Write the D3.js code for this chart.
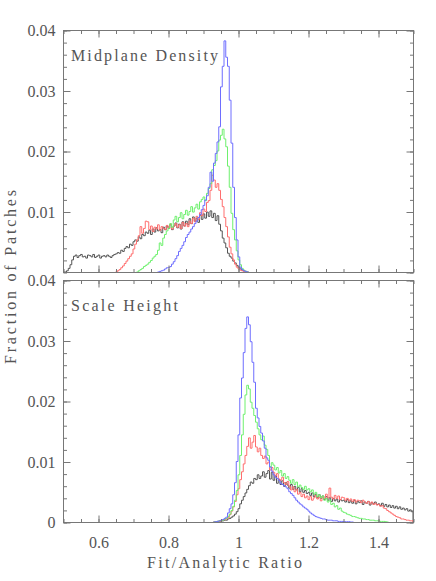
<!DOCTYPE html>
<html>
<head>
<meta charset="utf-8">
<script src="https://cdn.jsdelivr.net/npm/d3@7"></script>
<style>
    html, body { margin: 0; padding: 0; background: #fff; }
    #chart text { font-family: "Liberation Serif", "DejaVu Serif", serif; fill: #555; }
</style>
</head>
<body>
<div id="chart"></div>
<script>
// Histogram data, bin width 0.005, values in units of 1e-3 (fraction of patches)
const binWidth = 0.005;

// Midplane density panel
const mdBlackStart = 0.50;
const mdBlack = [
    0, 0, 0.2, 0.6, 1.2, 2.0, 2.6,
    2.8, 2.4, 2.7, 2.9, 2.5, 2.6, 2.3, 2.8, 2.7, 2.5, 2.9, 2.4, 2.6, 2.8, 2.3, 2.6, 2.7, 2.5, 2.8, 2.6, 2.4, 2.7, 2.9,
    3.0, 3.2, 3.1, 3.6, 3.4, 3.9, 4.2, 4.0, 4.6, 4.4, 5.0, 5.3, 5.1, 5.8, 5.5, 6.2, 6.0, 6.6,
    6.4, 6.9, 6.2, 7.1, 6.6, 7.3, 6.8, 7.0, 6.5, 7.4, 7.0, 7.6,
    7.2, 7.8, 7.0, 7.6, 8.1, 7.3, 7.9, 7.1, 8.3, 7.6, 8.4, 7.8, 8.8, 8.0, 9.1, 8.4, 8.9, 8.2, 9.4, 8.7,
    9.6, 8.9, 9.9, 9.2, 10.1, 9.0, 9.7, 8.5, 9.3, 7.9,
    6.8, 5.6, 4.8, 4.0, 3.1, 2.6, 2.3, 1.8, 1.5, 1.1, 0.8, 0.5, 0.3, 0.2, 0.1, 0
];
const mdRedStart = 0.65;
const mdRed = [
    0, 0.2, 0.4, 0.7, 1.0, 1.4, 1.8, 2.2, 2.6, 3.0, 3.8, 4.6, 5.3, 6.0, 7.5, 6.4, 7.2, 8.4,
    8.3, 7.0, 7.6, 6.7, 7.4, 7.1, 7.8, 6.9, 7.5, 7.2, 7.0, 7.7,
    7.3, 7.9, 7.1, 7.6, 8.0, 7.4, 7.8, 7.2, 8.2, 7.6, 8.0, 7.5, 8.4, 8.0, 8.9, 8.3, 9.2, 8.7, 9.8, 9.3,
    10.4, 10.0, 11.5, 11.8, 13.5, 16.0, 15.2, 14.0, 14.6, 13.5,
    12.0, 10.8, 9.0, 7.5, 5.8, 4.1, 3.0, 2.0, 1.3, 0.8, 0.5, 0.3, 0.2, 0.1, 0.05, 0
];
const mdGreenStart = 0.71;
const mdGreen = [
    0, 0.2, 0.4, 0.6, 0.9, 1.1, 1.3, 1.6, 1.9, 2.3, 2.6, 2.9, 3.6, 4.8, 4.4, 5.6, 6.2, 6.8,
    7.2, 8.0, 7.4, 8.6, 9.2, 8.3, 9.0, 9.8, 8.8, 9.5, 10.2, 9.4, 10.0, 10.8, 9.9, 10.6, 11.2, 10.4, 11.6, 12.0,
    12.4, 11.8, 13.0, 13.8, 14.6, 16.9, 17.6, 18.4, 20.0, 21.8,
    22.6, 23.6, 22.0, 20.7, 17.5, 14.0, 9.7, 7.0, 5.3, 3.5, 2.0, 1.2, 0.6, 0.3, 0.1, 0
];
const mdBlueStart = 0.77;
const mdBlue = [
    0, 0.1, 0.2, 0.3, 0.5, 0.7,
    0.7, 0.9, 1.3, 1.7, 2.2, 2.7, 3.4, 3.9, 4.4, 5.0, 5.7, 6.2, 6.6, 7.1, 7.5, 8.0, 8.4, 9.0, 9.5, 10.3,
    11.0, 11.9, 12.6, 14.0, 16.5, 15.0, 18.0, 19.6, 21.5, 24.0,
    30.6, 34.0, 38.2, 35.5, 34.0, 28.4, 21.3, 14.0, 9.0, 5.3, 2.5, 0.8, 0.4, 0.2, 0.1, 0
];

// Scale height panel
const shBlackStart = 0.93;
const shBlack = [
    0, 0.05, 0.1, 0.1, 0.15, 0.2, 0.3, 0.3, 0.5, 0.6, 0.8, 1.0, 1.3, 1.7,
    2.2, 3.0, 3.6, 4.2, 4.8, 5.4, 6.0, 6.6, 6.4, 7.2, 7.0, 7.8, 7.2, 7.6, 8.3, 7.4, 8.0, 8.5, 7.1, 8.2,
    6.9, 7.6, 6.4, 7.0, 6.2, 6.8, 5.9, 6.5, 6.1, 5.6, 6.2, 5.4, 5.9, 5.3, 5.7, 5.0, 5.5, 4.9, 5.2, 4.7,
    4.9, 4.4, 4.8, 4.2, 4.6, 4.0, 4.5, 3.9, 4.3, 3.7, 4.2, 3.6, 4.0, 3.4, 3.9, 3.5, 3.8, 3.3, 3.7, 3.5,
    3.6, 3.3, 3.7, 3.2, 3.5, 3.1, 3.6, 3.0, 3.4, 3.2, 3.5, 2.9, 3.3, 3.1, 3.4, 2.8, 3.2, 3.0, 3.3, 2.9,
    3.0, 2.7, 3.1, 2.6, 2.9, 2.5, 2.8, 2.4, 2.7, 2.3, 2.6, 2.2, 2.5, 2.1, 2.3, 2.0, 2.2, 1.8, 2.0, 1.7
];
const shRedStart = 0.93;
const shRed = [
    0, 0.05, 0.1, 0.1, 0.2, 0.3, 0.4, 0.5, 0.7, 1.2, 1.8, 2.5, 3.4, 4.5,
    5.5, 7.0, 8.3, 9.6, 11.0, 12.5, 13.9, 12.2, 13.2, 14.3, 12.4, 11.6, 12.2, 11.0, 10.5, 10.9, 9.6, 9.9, 8.6, 9.0,
    8.2, 7.6, 8.0, 7.1, 6.9, 7.4, 6.5, 6.2, 6.7, 5.9, 5.3, 5.8, 5.0, 5.4, 4.6, 4.9, 4.2, 4.6, 4.0, 4.3,
    3.7, 4.2, 3.6, 4.0, 4.4, 3.8, 4.1, 3.5, 4.2, 3.9, 4.6, 4.0, 5.6, 4.1, 3.8, 4.4, 3.9, 4.3, 3.7, 4.1,
    4.0, 3.6, 3.9, 3.5, 3.8, 3.4, 3.7, 3.3, 3.6, 3.5, 3.2, 3.6, 3.3, 3.1, 3.4, 3.0, 3.3, 2.9, 3.1, 2.8,
    2.9, 2.6, 2.7, 2.3, 2.2, 1.9, 1.7, 1.5, 1.3, 1.1, 0.9, 0.8, 0.7, 0.5, 0.5, 0.4, 0.3, 0.3, 0.2, 0.2
];
const shGreenStart = 0.93;
const shGreen = [
    0, 0.05, 0.1, 0.2, 0.2, 0.3, 0.5, 0.6, 0.9, 1.3, 1.9, 2.6, 3.6, 5.2,
    7.8, 11.0, 14.4, 17.8, 21.0, 22.6, 22.0, 19.8, 18.8, 17.6, 16.5, 15.4, 14.4, 13.6, 14.2, 12.7, 12.0, 11.0, 9.1, 9.8,
    9.4, 8.6, 9.0, 8.1, 8.5, 7.6, 8.0, 7.2, 7.5, 6.9, 6.4, 7.0, 6.2, 6.6, 5.8, 6.1, 5.7, 5.4, 5.9, 5.3,
    5.5, 5.0, 5.3, 4.6, 4.9, 4.2, 4.5, 4.0, 4.3, 3.6, 3.9, 3.3, 3.6, 2.9, 3.1, 2.5, 2.7, 2.1, 2.3, 1.8,
    1.6, 1.5, 1.3, 1.2, 1.1, 0.9, 0.9, 0.8, 0.7, 0.6, 0.6, 0.5, 0.5, 0.4, 0.4, 0.3, 0.3, 0.3, 0.2, 0.2, 0.2, 0.1, 0.1, 0.1, 0.05, 0
];
const shBlueStart = 0.93;
const shBlue = [
    0, 0.05, 0.1, 0.2, 0.3, 0.4, 0.6, 0.8, 1.5, 2.2, 3.0, 4.5, 6.5, 10.0,
    14.4, 20.5, 23.8, 28.0, 32.0, 33.9, 32.6, 29.8, 26.4, 23.1, 18.8, 17.2, 15.8, 14.7, 13.4, 12.2, 10.6, 10.2, 9.1, 8.4,
    7.8, 7.4, 7.2, 6.9, 6.4, 6.2, 6.0, 5.8, 5.5, 5.0, 4.7, 4.4, 4.0, 3.6, 3.3, 3.0, 2.8, 2.5, 2.3, 2.1,
    1.8, 1.5, 1.3, 1.1, 0.9, 0.8, 0.7, 0.6, 0.5, 0.5, 0.4, 0.3, 0.3, 0.3, 0.2, 0.2, 0.2, 0.1, 0.1, 0.1, 0.1, 0.05, 0.05, 0.05, 0, 0
];

const yTickLabels = [0, 0.01, 0.02, 0.03, 0.04];
const xTickLabels = [0.6, 0.8, 1, 1.2, 1.4];

const colors = { black: '#555555', red: '#ff6e6e', green: '#6ef06e', blue: '#6e6eff' };

const panels = [
    {
        title: 'Midplane Density', titleLen: 147, top: 30, bottom: 272, showZero: false,
        series: [
            { start: mdBlackStart, values: mdBlack, color: colors.black },
            { start: mdRedStart, values: mdRed, color: colors.red },
            { start: mdGreenStart, values: mdGreen, color: colors.green },
            { start: mdBlueStart, values: mdBlue, color: colors.blue }
        ]
    },
    {
        title: 'Scale Height', titleLen: 107, top: 280, bottom: 522, showZero: true,
        series: [
            { start: shBlackStart, values: shBlack, color: colors.black },
            { start: shRedStart, values: shRed, color: colors.red },
            { start: shGreenStart, values: shGreen, color: colors.green },
            { start: shBlueStart, values: shBlue, color: colors.blue }
        ]
    }
];

const width = 436;
const height = 581;
const left = 63, right = 413;

const svg = d3.select('#chart').append('svg')
    .attr('width', width)
    .attr('height', height);

const x = d3.scaleLinear().domain([0.5, 1.5]).range([left, right]);
const xMinor = d3.range(0.5, 1.5001, 0.05).map(d => +d.toFixed(2));
const yMinor = d3.range(0, 0.04001, 0.002).map(d => +d.toFixed(3));

const fmtY = d => d === 0 ? '0' : d3.format('.2f')(d);
const fmtX = d => d3.format('~g')(d);

// tick helper: inward ticks, labels optional
const styleAxis = g => {
    g.select('.domain').remove();
    g.selectAll('.tick line').attr('stroke', '#777');
    g.selectAll('.tick text')
        .style('font-size', '16px')
        .attr('fill', '#555');
};

panels.forEach((p, pi) => {
    const y = d3.scaleLinear().domain([0, 0.04]).range([p.bottom, p.top]);
    const g = svg.append('g');

    // Histograms
    const line = d3.line()
        .x(d => x(d[0]))
        .y(d => y(d[1] / 1000))
        .curve(d3.curveStepAfter);

    p.series.forEach(s => {
        const pts = s.values.map((v, i) => [s.start + i * binWidth, v]);
        pts.push([s.start + s.values.length * binWidth, 0]);
        g.append('path')
            .datum(pts)
            .attr('fill', 'none')
            .attr('stroke', s.color)
            .attr('stroke-width', 1)
            .attr('d', line);
    });

    // Frame
    g.append('rect')
        .attr('x', left + 0.5)
        .attr('y', p.top + 0.5)
        .attr('width', right - left)
        .attr('height', p.bottom - p.top)
        .attr('fill', 'none')
        .attr('stroke', '#777');

    // X ticks, bottom and top
    const isLast = pi === panels.length - 1;
    g.append('g').attr('transform', `translate(0.5,${p.bottom + 0.5})`)
        .call(d3.axisBottom(x).tickValues(xMinor).tickSize(-3.5).tickFormat(''))
        .call(styleAxis);
    g.append('g').attr('transform', `translate(0.5,${p.bottom + 0.5})`)
        .call(d3.axisBottom(x).tickValues(xTickLabels).tickSize(-7).tickPadding(isLast ? 14 : 0)
            .tickFormat(isLast ? fmtX : ''))
        .call(styleAxis);
    g.append('g').attr('transform', `translate(0.5,${p.top + 0.5})`)
        .call(d3.axisTop(x).tickValues(xMinor).tickSize(-3.5).tickFormat(''))
        .call(styleAxis);
    g.append('g').attr('transform', `translate(0.5,${p.top + 0.5})`)
        .call(d3.axisTop(x).tickValues(xTickLabels).tickSize(-7).tickFormat(''))
        .call(styleAxis);

    // Y ticks, left and right
    g.append('g').attr('transform', `translate(${left + 0.5},0.5)`)
        .call(d3.axisLeft(y).tickValues(yMinor).tickSize(-3.5).tickFormat(''))
        .call(styleAxis);
    g.append('g').attr('transform', `translate(${left + 0.5},0.5)`)
        .call(d3.axisLeft(y).tickValues(p.showZero ? yTickLabels : yTickLabels.slice(1))
            .tickSize(-7).tickPadding(8).tickFormat(fmtY))
        .call(styleAxis);
    g.append('g').attr('transform', `translate(${right + 0.5},0.5)`)
        .call(d3.axisRight(y).tickValues(yMinor).tickSize(-3.5).tickFormat(''))
        .call(styleAxis);
    g.append('g').attr('transform', `translate(${right + 0.5},0.5)`)
        .call(d3.axisRight(y).tickValues(yTickLabels).tickSize(-7).tickFormat(''))
        .call(styleAxis);

    // Panel title
    g.append('text')
        .attr('x', 71)
        .attr('y', p.top + 31)
        .attr('textLength', p.titleLen)
        .attr('lengthAdjust', 'spacing')
        .style('font-size', '16px')
        .text(p.title);
});

// Axis labels
svg.append('text')
    .attr('x', 147)
    .attr('y', 568)
    .attr('textLength', 155)
    .attr('lengthAdjust', 'spacing')
    .style('font-size', '16px')
    .text('Fit/Analytic Ratio');

svg.append('text')
    .attr('transform', 'translate(16,364) rotate(-90)')
    .attr('x', 0)
    .attr('y', 0)
    .attr('textLength', 174)
    .attr('lengthAdjust', 'spacing')
    .style('font-size', '16px')
    .text('Fraction of Patches');
</script>
</body>
</html>
